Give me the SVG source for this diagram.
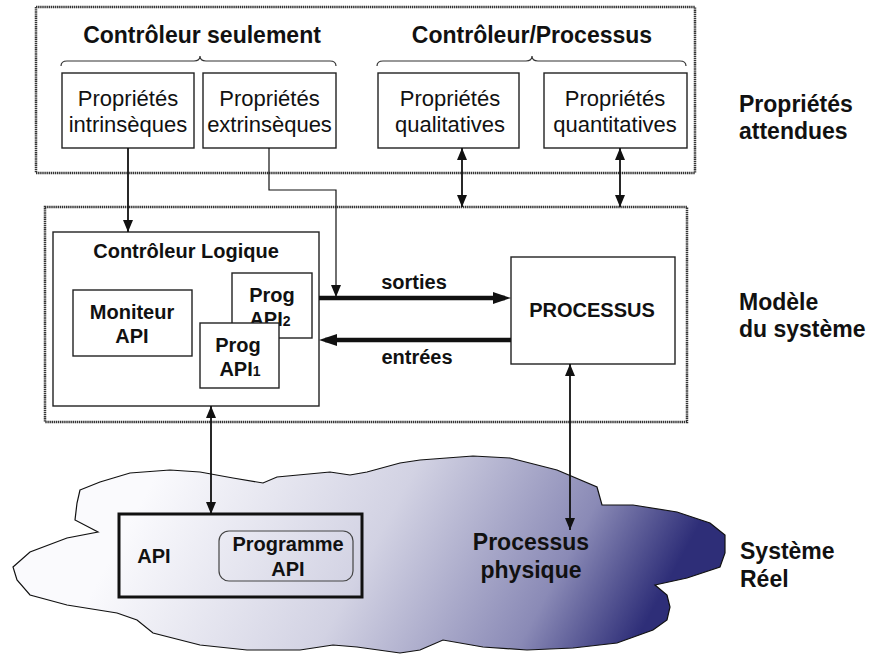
<svg xmlns="http://www.w3.org/2000/svg" width="869" height="655" viewBox="0 0 869 655">
<style>
text{font-family:"Liberation Sans",Arial,sans-serif;fill:#111;text-anchor:middle}
.h{font-weight:bold;font-size:23px}
.r{font-size:22px}
.b{font-weight:bold;font-size:20px}
.side{font-weight:bold;font-size:23px;text-anchor:start}
.box{fill:#fff;stroke:#222;stroke-width:1.4}
.frame{fill:none;stroke:#333;stroke-width:2.5;stroke-dasharray:1.4 0.7}
.thin{fill:none;stroke:#111;stroke-width:1.8}
.thin1{fill:none;stroke:#111;stroke-width:1.2}
.thick{fill:none;stroke:#111;stroke-width:4.5}
.brace{fill:none;stroke:#333;stroke-width:1.2}
</style>
<defs>
<marker id="ah" viewBox="0 0 12 10" refX="12" refY="5" markerWidth="12" markerHeight="10" markerUnits="userSpaceOnUse" orient="auto-start-reverse">
<path d="M0,0 L12,5 L0,10 z" fill="#111"/>
</marker>
<marker id="ahb" viewBox="0 0 18 12" refX="12" refY="6" markerWidth="18" markerHeight="12" markerUnits="userSpaceOnUse" orient="auto">
<path d="M0,0 L18,6 L0,12 z" fill="#111"/>
</marker>
<linearGradient id="sky" gradientUnits="userSpaceOnUse" x1="180" y1="430" x2="620" y2="670">
<stop offset="0" stop-color="#fafafd"/>
<stop offset="0.45" stop-color="#d2d2e3"/>
<stop offset="0.8" stop-color="#8a8ab6"/>
<stop offset="1" stop-color="#2e2e78"/>
</linearGradient>
</defs>

<!-- cloud -->
<g id="cloud">
<path d="M80,490 L100,482 L130,473 L170,470 L200,472 L233,478 L263,483 L277,477 L330,472 L350,475 L367,472 L400,463 L420,460 L473,456 L510,458 L557,470 L597,487 L602,505 L633,505 L677,512 L710,523 L725,535 L725,553 L720,567 L687,578 L655,585 L667,595 L670,607 L667,620 L653,630 L617,643 L573,648 L527,650 L483,647 L443,640 L420,650 L400,653 L357,647 L333,645 L300,650 L247,650 L200,645 L153,633 L137,620 L117,613 L67,605 L30,595 L17,580 L13,567 L30,552 L67,538 L98,532 L75,520 L77,503 Z" fill="url(#sky)" stroke="#111" stroke-width="1.2"/>
</g>

<!-- top frame -->
<g id="proprietes">
<rect class="frame" x="36" y="7" width="659" height="166"/>
<text class="h" x="202" y="43">Contrôleur seulement</text>
<text class="h" x="532" y="43">Contrôleur/Processus</text>
<path class="brace" d="M61,66 Q61,61 67,61 L194,61 Q200,61 200,56 Q200,61 206,61 L330,61 Q336,61 336,66"/>
<path class="brace" d="M377,66 Q377,61 383,61 L526,61 Q532,61 532,56 Q532,61 538,61 L680,61 Q686,61 686,66"/>
</g>

<g id="intrinseques">
<rect class="box" x="62" y="73" width="132" height="75"/>
<text class="r" x="128" y="106">Propriétés</text>
<text class="r" x="128" y="132">intrinsèques</text>
</g>
<g id="extrinseques">
<rect class="box" x="203" y="73" width="133" height="75"/>
<text class="r" x="269.5" y="106">Propriétés</text>
<text class="r" x="269.5" y="132">extrinsèques</text>
</g>
<g id="qualitatives">
<rect class="box" x="378" y="73" width="141" height="75"/>
<text class="r" x="450" y="106">Propriétés</text>
<text class="r" x="450" y="132">qualitatives</text>
</g>
<g id="quantitatives">
<rect class="box" x="544" y="73" width="143" height="75"/>
<text class="r" x="615" y="106">Propriétés</text>
<text class="r" x="615" y="132">quantitatives</text>
</g>

<!-- middle frame -->
<g id="modele">
<rect class="frame" x="45" y="207" width="642" height="215"/>
</g>

<g id="controleur">
<rect class="box" x="53" y="232" width="266" height="174"/>
<text class="b" x="186" y="258">Contrôleur Logique</text>
</g>
<g id="moniteur">
<rect class="box" x="73" y="290" width="119" height="66"/>
<text class="b" x="132" y="319">Moniteur</text>
<text class="b" x="132" y="343">API</text>
</g>
<g id="prog2">
<rect class="box" x="232" y="273" width="80" height="65"/>
<text class="b" x="272" y="302">Prog</text>
<text class="b" x="270" y="326">API<tspan font-size="14">2</tspan></text>
</g>
<g id="prog1">
<rect class="box" x="200" y="323" width="79" height="65"/>
<text class="b" x="238" y="352">Prog</text>
<text class="b" x="240" y="376">API<tspan font-size="14">1</tspan></text>
</g>
<g id="processus">
<rect class="box" x="511" y="257" width="164" height="107"/>
<text class="b" x="592" y="317">PROCESSUS</text>
</g>

<!-- real system -->
<g id="api">
<rect x="119" y="514" width="243" height="83" fill="none" stroke="#111" stroke-width="3"/>
<text class="b" x="154" y="563">API</text>
</g>
<g id="programme">
<rect x="219" y="531" width="134" height="50" rx="10" ry="10" fill="none" stroke="#444" stroke-width="1.2"/>
<text class="b" x="288" y="551">Programme</text>
<text class="b" x="288" y="576">API</text>
</g>
<g id="physique">
<text class="h" x="531" y="550">Processus</text>
<text class="h" x="531" y="578">physique</text>
</g>

<!-- side labels -->
<g id="labels">
<text class="side" x="739" y="112">Propriétés</text>
<text class="side" x="739" y="139">attendues</text>
<text class="side" x="739" y="310">Modèle</text>
<text class="side" x="739" y="337">du système</text>
<text class="side" x="740" y="559">Système</text>
<text class="side" x="740" y="587">Réel</text>
</g>

<!-- connectors -->
<g id="connectors">
<line class="thin" x1="128" y1="148" x2="128" y2="232" marker-end="url(#ah)"/>
<polyline class="thin1" points="269,148 269,190 336,190 336,297" marker-end="url(#ah)"/>
<line class="thin" x1="462" y1="148" x2="462" y2="207" marker-start="url(#ah)" marker-end="url(#ah)"/>
<line class="thin" x1="620" y1="148" x2="620" y2="207" marker-start="url(#ah)" marker-end="url(#ah)"/>
<line class="thick" x1="319" y1="298" x2="505" y2="298" marker-end="url(#ahb)"/>
<line class="thick" x1="511" y1="340" x2="325" y2="340" marker-end="url(#ahb)"/>
<text class="b" x="414" y="289">sorties</text>
<text class="b" x="417" y="364">entrées</text>
<line class="thin" x1="211" y1="406" x2="211" y2="514" marker-start="url(#ah)" marker-end="url(#ah)"/>
<line class="thin" x1="570" y1="364" x2="570" y2="530" marker-start="url(#ah)" marker-end="url(#ah)"/>
</g>
</svg>
